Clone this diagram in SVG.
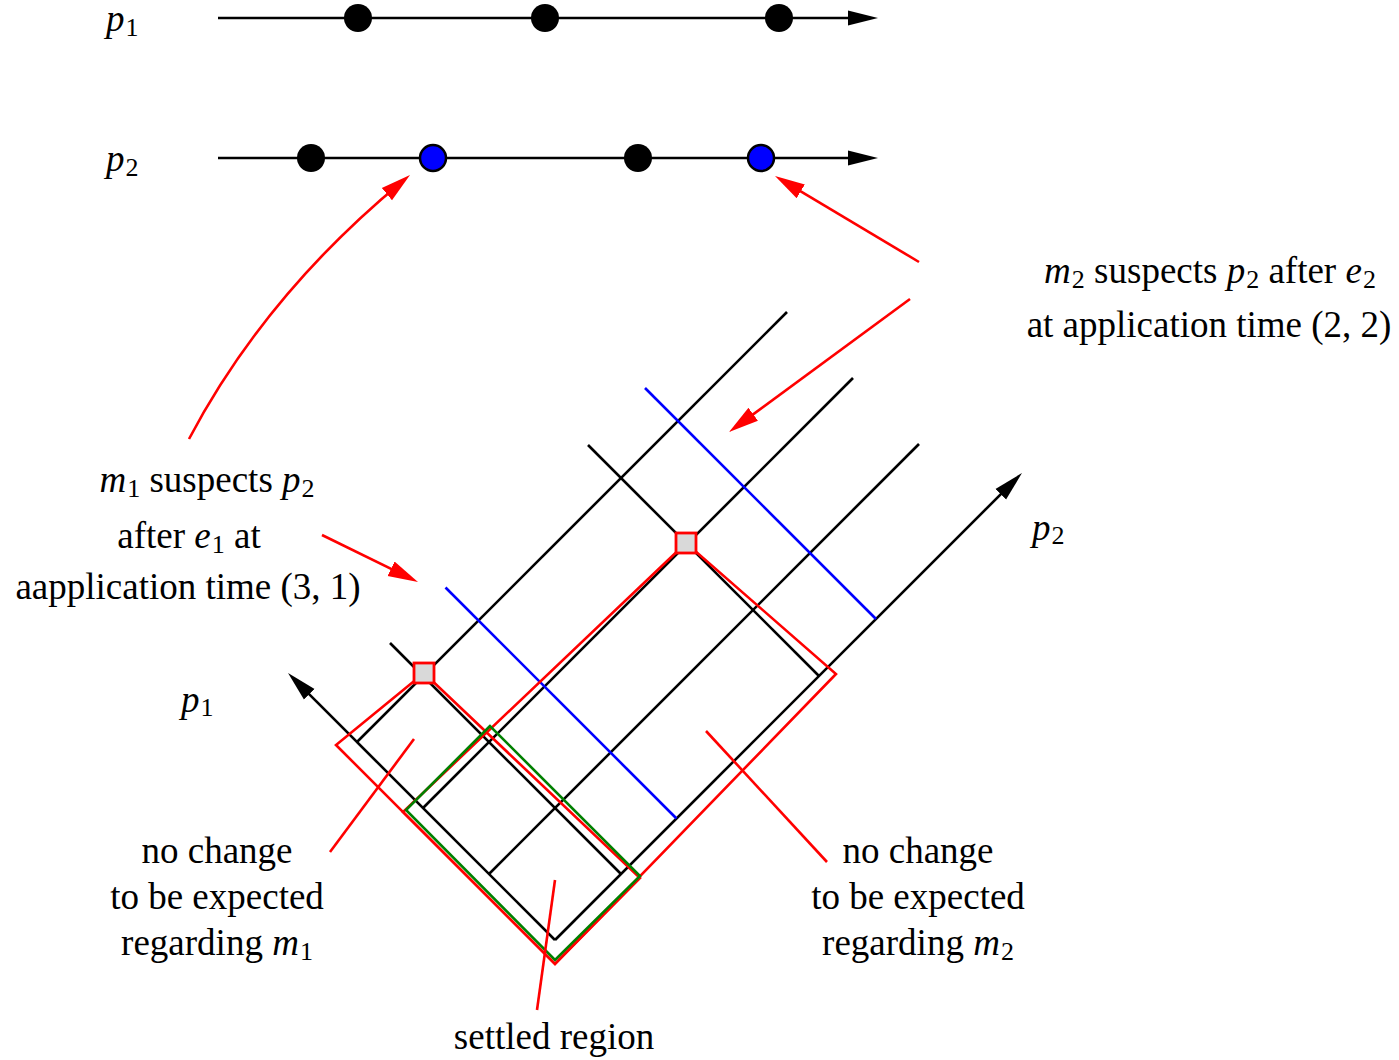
<svg xmlns="http://www.w3.org/2000/svg" width="1399" height="1060" viewBox="0 0 1399 1060">
  <style>
    text { font-family: "Liberation Serif", "Times New Roman", serif; font-size: 37px; fill: #000; }
    .mi { font-style: italic; }
    .sub { font-size: 26px; }
    .ln { stroke: #000; stroke-width: 2.6; fill: none; }
    .bl { stroke: #0000ff; stroke-width: 2.6; fill: none; }
    .rd { stroke: #ff0000; stroke-width: 2.6; fill: none; }
    .gr { stroke: #008000; stroke-width: 2.6; fill: none; }
    .dot { fill: #000; }
    .bdot { fill: #0000ff; stroke: #000; stroke-width: 2.5; }
    .sq { fill: #d9d9d9; stroke: #ff0000; stroke-width: 2.8; }
  </style>
  <defs>
    <marker id="ah" markerUnits="userSpaceOnUse" markerWidth="32" markerHeight="18" viewBox="0 -9 32 18" refX="20" refY="0" orient="auto">
      <path d="M0,-7.5 L30,0 L0,7.5 Z" fill="#000"/>
    </marker>
    <marker id="ahr" markerUnits="userSpaceOnUse" markerWidth="32" markerHeight="20" viewBox="0 -10 32 20" refX="20" refY="0" orient="auto">
      <path d="M0,-8 L30,0 L0,8 Z" fill="#ff0000"/>
    </marker>
  </defs>

  <!-- process timelines -->
  <g id="timeline-p1">
    <line class="ln" x1="218" y1="18" x2="868" y2="18" marker-end="url(#ah)"/>
    <circle class="dot" cx="358" cy="18" r="14"/>
    <circle class="dot" cx="545" cy="18" r="14"/>
    <circle class="dot" cx="779" cy="18" r="14"/>
    <text x="106" y="31"><tspan class="mi">p</tspan><tspan class="sub" dx="1" dy="5">1</tspan></text>
  </g>
  <g id="timeline-p2">
    <line class="ln" x1="218" y1="158" x2="868" y2="158" marker-end="url(#ah)"/>
    <circle class="dot" cx="311" cy="158" r="14"/>
    <circle class="bdot" cx="433" cy="158" r="13"/>
    <circle class="dot" cx="638" cy="158" r="14"/>
    <circle class="bdot" cx="761" cy="158" r="13"/>
    <text x="106" y="171"><tspan class="mi">p</tspan><tspan class="sub" dx="1" dy="5">2</tspan></text>
  </g>

  <!-- rotated time grid -->
  <g id="grid">
    <!-- axes -->
    <line class="ln" x1="555" y1="940" x2="1014.9" y2="480.1" marker-end="url(#ah)"/>
    <line class="ln" x1="555" y1="940" x2="295.1" y2="680.1" marker-end="url(#ah)"/>
    <!-- lines parallel to the p2 axis -->
    <line class="ln" x1="489" y1="874" x2="919" y2="444"/>
    <line class="ln" x1="423" y1="808" x2="853" y2="378"/>
    <line class="ln" x1="357" y1="742" x2="787" y2="312"/>
    <!-- lines parallel to the p1 axis -->
    <line class="ln" x1="621" y1="874" x2="390" y2="643"/>
    <line class="ln" x1="819" y1="676" x2="588" y2="445"/>
    <!-- suspicion lines -->
    <line class="bl" x1="676.5" y1="818.5" x2="445.5" y2="587.5"/>
    <line class="bl" x1="876" y1="619" x2="645" y2="388"/>
    <text x="181" y="712"><tspan class="mi">p</tspan><tspan class="sub" dx="1" dy="4">1</tspan></text>
    <text x="1032" y="540"><tspan class="mi">p</tspan><tspan class="sub" dx="1" dy="4">2</tspan></text>
  </g>

  <!-- regions -->
  <g id="region-m1">
    <polygon class="rd" points="424,673 336,745 555,964 640,878"/>
  </g>
  <g id="region-m2">
    <polygon class="rd" points="686,543 403,812 555,964 836,674"/>
  </g>
  <g id="settled-region">
    <polygon class="gr" points="490,726 406,810 555,960 640,876"/>
  </g>
  <g id="mark-m1">
    <rect class="sq" x="414" y="663" width="20" height="20"/>
  </g>
  <g id="mark-m2">
    <rect class="sq" x="676" y="533" width="20" height="20"/>
  </g>

  <!-- callouts -->
  <g id="connectors">
    <path class="rd" d="M189,439 Q265,295 402.3,181.4" marker-end="url(#ahr)"/>
    <line class="rd" x1="919" y1="262" x2="783.6" y2="181.1" marker-end="url(#ahr)"/>
    <line class="rd" x1="910" y1="299" x2="737.1" y2="426.1" marker-end="url(#ahr)"/>
    <line class="rd" x1="322" y1="535" x2="409" y2="577.6" marker-end="url(#ahr)"/>
    <line class="rd" x1="330" y1="852" x2="414" y2="739"/>
    <line class="rd" x1="827" y1="862" x2="706" y2="731"/>
    <line class="rd" x1="537" y1="1010" x2="555" y2="880"/>
  </g>

  <g id="label-m1">
    <text x="207" y="492" text-anchor="middle"><tspan class="mi">m</tspan><tspan class="sub" dx="1" dy="5">1</tspan><tspan dy="-5"> suspects </tspan><tspan class="mi">p</tspan><tspan class="sub" dx="1" dy="5">2</tspan></text>
    <text x="189" y="548" text-anchor="middle">after <tspan class="mi">e</tspan><tspan class="sub" dx="1" dy="5">1</tspan><tspan dy="-5"> at</tspan></text>
    <text x="188" y="599" text-anchor="middle">aapplication time (3, 1)</text>
  </g>
  <g id="label-m2">
    <text x="1210" y="283" text-anchor="middle"><tspan class="mi">m</tspan><tspan class="sub" dx="1" dy="5">2</tspan><tspan dy="-5"> suspects </tspan><tspan class="mi">p</tspan><tspan class="sub" dx="1" dy="5">2</tspan><tspan dy="-5"> after </tspan><tspan class="mi">e</tspan><tspan class="sub" dx="1" dy="5">2</tspan></text>
    <text x="1209" y="337" text-anchor="middle">at application time (2, 2)</text>
  </g>
  <g id="label-nochange-m1">
    <text x="217" y="863" text-anchor="middle">no change</text>
    <text x="217" y="909" text-anchor="middle">to be expected</text>
    <text x="217" y="955" text-anchor="middle">regarding <tspan class="mi">m</tspan><tspan class="sub" dx="1" dy="5">1</tspan></text>
  </g>
  <g id="label-nochange-m2">
    <text x="918" y="863" text-anchor="middle">no change</text>
    <text x="918" y="909" text-anchor="middle">to be expected</text>
    <text x="918" y="955" text-anchor="middle">regarding <tspan class="mi">m</tspan><tspan class="sub" dx="1" dy="5">2</tspan></text>
  </g>
  <g id="label-settled">
    <text x="554" y="1049" text-anchor="middle">settled region</text>
  </g>
</svg>
